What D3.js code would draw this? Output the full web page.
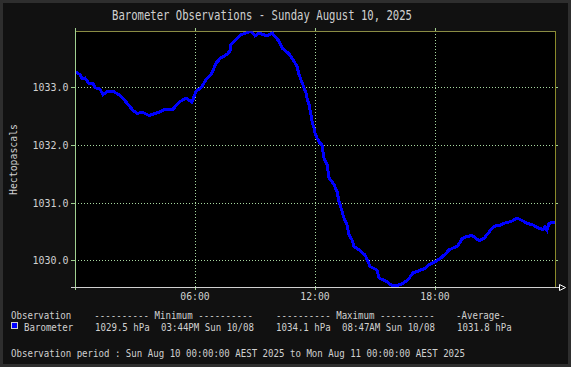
<!DOCTYPE html>
<html>
<head>
<meta charset="utf-8">
<script src="https://cdn.jsdelivr.net/npm/d3@7"></script>
<style>
  html, body { margin: 0; padding: 0; background: #2e2e2e; }
  svg { display: block; }
  text { font-family: "DejaVu Sans Mono", "Liberation Mono", monospace; fill: #d0d0d0; }
</style>
</head>
<body>
<svg id="chart" width="571" height="367"></svg>
<script>
// ---- data ----
const title = "Barometer Observations - Sunday August 10, 2025";
const yLabel = "Hectopascals";
const hours = [0.0,0.25,0.35,0.5,0.7,0.9,1.0,1.25,1.4,1.65,1.9,2.15,2.4,2.65,2.9,3.1,3.4,3.7,4.05,4.3,4.5,4.9,
  5.2,5.55,5.85,6.05,6.3,6.55,6.8,6.95,7.05,7.3,7.6,7.75,7.8,8.05,8.3,8.55,8.8,9.0,9.2,9.6,9.85,10.2,10.35,10.7,
  10.95,11.1,11.2,11.45,11.55,11.6,11.7,11.8,11.85,11.95,12.0,12.1,12.25,12.35,12.45,12.6,12.7,12.95,13.1,13.2,
  13.35,13.45,13.6,13.7,13.85,13.95,14.2,14.5,14.65,14.75,15.1,15.2,15.6,15.8,16.05,16.3,16.65,16.9,17.15,17.5,
  17.7,18.0,18.3,18.55,18.7,19.1,19.2,19.35,19.5,19.85,20.2,20.45,20.8,20.95,21.2,21.45,21.8,22.1,22.35,22.6,
  22.9,23.1,23.4,23.5,23.6,23.7,24.0];
const pressure = [1033.27,1033.22,1033.15,1033.16,1033.06,1033.06,1032.99,1032.97,1032.87,1032.93,1032.93,1032.88,
  1032.81,1032.70,1032.60,1032.55,1032.56,1032.51,1032.55,1032.58,1032.62,1032.62,1032.74,1032.81,1032.74,1032.93,
  1032.99,1033.13,1033.22,1033.33,1033.42,1033.51,1033.57,1033.63,1033.74,1033.83,1033.91,1033.94,1033.98,1033.89,
  1033.94,1033.89,1033.94,1033.80,1033.68,1033.58,1033.45,1033.36,1033.22,1032.99,1032.90,1032.81,1032.70,1032.52,
  1032.41,1032.29,1032.21,1032.12,1032.03,1032.00,1031.77,1031.66,1031.43,1031.31,1031.19,1031.02,1030.85,1030.73,
  1030.61,1030.44,1030.35,1030.24,1030.18,1030.09,1029.98,1029.89,1029.83,1029.69,1029.63,1029.57,1029.56,1029.58,
  1029.66,1029.78,1029.81,1029.86,1029.92,1029.97,1030.04,1030.12,1030.18,1030.24,1030.28,1030.37,1030.40,1030.43,
  1030.34,1030.38,1030.53,1030.59,1030.60,1030.64,1030.67,1030.73,1030.69,1030.64,1030.61,1030.57,1030.53,1030.58,
  1030.52,1030.64,1030.66];
const yTicks = [1030, 1031, 1032, 1033];
const xTicks = [6, 12, 18];
const xTickLabels = ["06:00", "12:00", "18:00"];
const legendHeader = ["Observation", "---------- Minimum ----------", "---------- Maximum ----------", "-Average-"];
const legendRow = ["Barometer", "1029.5 hPa", "03:44PM Sun 10/08", "1034.1 hPa", "08:47AM Sun 10/08", "1031.8 hPa"];
const periodText = "Observation period : Sun Aug 10 00:00:00 AEST 2025 to Mon Aug 11 00:00:00 AEST 2025";

// ---- layout ----
const svg = d3.select("#chart");
const L = 75, R = 555, T = 31.3, B = 287.3;
const CW = 5.47; // char width for small text

svg.append("rect").attr("x", 3).attr("y", 3).attr("width", 565).attr("height", 361).attr("fill", "#111111");

const x = d3.scaleLinear().domain([0, 24]).range([L, R]);
const y = d3.scaleLinear().domain([1029.53, 1033.97]).range([B, T]);

svg.append("rect").attr("x", L).attr("y", T).attr("width", R - L).attr("height", B - T).attr("fill", "#000");

// title
svg.append("text").attr("x", 112).attr("y", 20).attr("font-size", 13.5)
  .attr("textLength", 300).attr("lengthAdjust", "spacingAndGlyphs")
  .attr("fill", "#d4d4d4").text(title);

// grid lines
const grid = svg.append("g").attr("stroke", "#a8d8a0").attr("stroke-width", 1)
  .attr("stroke-dasharray", "1,2").attr("shape-rendering", "crispEdges");
yTicks.forEach(t => {
  grid.append("line").attr("x1", L).attr("x2", R).attr("y1", Math.round(y(t)) + 0.5).attr("y2", Math.round(y(t)) + 0.5);
});
xTicks.forEach(t => {
  grid.append("line").attr("y1", T).attr("y2", B).attr("x1", Math.round(x(t)) + 0.5).attr("x2", Math.round(x(t)) + 0.5);
});

// tick marks (solid)
const ticks = svg.append("g").attr("stroke", "#a0d090").attr("stroke-width", 1).attr("shape-rendering", "crispEdges");
yTicks.forEach(t => {
  const yy = Math.round(y(t)) + 0.5;
  ticks.append("line").attr("x1", L - 4).attr("x2", L).attr("y1", yy).attr("y2", yy);
  ticks.append("line").attr("x1", R).attr("x2", R + 3).attr("y1", yy).attr("y2", yy);
});
[0].concat(xTicks).forEach(t => {
  const xx = Math.round(x(t)) + 0.5;
  ticks.append("line").attr("x1", xx).attr("x2", xx).attr("y1", T - 3).attr("y2", T);
  ticks.append("line").attr("x1", xx).attr("x2", xx).attr("y1", B).attr("y2", B + 3);
});

// borders
svg.append("line").attr("x1", L).attr("x2", R + 0.5).attr("y1", Math.round(T) + 0.5).attr("y2", Math.round(T) + 0.5)
  .attr("stroke", "#8a8c44").attr("shape-rendering", "crispEdges");
svg.append("line").attr("x1", R + 0.5).attr("x2", R + 0.5).attr("y1", T).attr("y2", B)
  .attr("stroke", "#8a8a2a").attr("shape-rendering", "crispEdges");

// data line
svg.append("clipPath").attr("id", "clip").append("rect")
  .attr("x", L + 1).attr("y", T).attr("width", R - L - 1).attr("height", B - T);
const data = hours.map((h, i) => ({h, v: pressure[i]}));
const line = d3.line().x(d => x(d.h)).y(d => y(d.v)).curve(d3.curveLinear);
svg.append("path").datum(data).attr("d", line).attr("clip-path", "url(#clip)")
  .attr("fill", "none").attr("stroke", "#0000ff").attr("stroke-width", 3)
  .attr("stroke-linejoin", "miter").attr("shape-rendering", "crispEdges");

// axes lines
svg.append("line").attr("x1", L + 0.5).attr("x2", L + 0.5).attr("y1", T - 2).attr("y2", B + 3)
  .attr("stroke", "#a0d090").attr("shape-rendering", "crispEdges");
svg.append("line").attr("x1", L - 4).attr("x2", 560).attr("y1", Math.round(B) + 0.5).attr("y2", Math.round(B) + 0.5)
  .attr("stroke", "#d0d0d0").attr("shape-rendering", "crispEdges");
svg.append("path").attr("d", "M559.5,284.5 L565.5,287.5 L559.5,290.5 Z")
  .attr("fill", "none").attr("stroke", "#ffffff").attr("stroke-width", 1);

// y tick labels
yTicks.forEach(t => {
  svg.append("text").attr("x", 68.5).attr("y", y(t) + 4).attr("text-anchor", "end")
    .attr("font-size", 11).attr("textLength", 36).attr("lengthAdjust", "spacingAndGlyphs")
    .attr("fill", "#d0d0d0").text(t.toFixed(1));
});
// x tick labels
xTicks.forEach((t, i) => {
  svg.append("text").attr("x", x(t) - 14.7).attr("y", 299.5)
    .attr("font-size", 11).attr("textLength", 29.4).attr("lengthAdjust", "spacingAndGlyphs")
    .attr("fill", "#d0d0d0").text(xTickLabels[i]);
});
// y axis title
svg.append("text").attr("transform", "translate(16.5,195) rotate(-90)")
  .attr("font-size", 11).attr("textLength", 71).attr("lengthAdjust", "spacingAndGlyphs")
  .attr("fill", "#d0d0d0").text(yLabel);

// legend
function smallText(str, xx, yy) {
  svg.append("text").attr("x", xx).attr("y", yy).attr("font-size", 10.5)
    .attr("textLength", str.length * CW).attr("lengthAdjust", "spacingAndGlyphs")
    .attr("fill", "#d0d0d0").text(str);
}
const hdrX = [11, 94.3, 276, 456];
legendHeader.forEach((s, i) => smallText(s, hdrX[i], 318.5));
svg.append("rect").attr("x", 11.5).attr("y", 322.5).attr("width", 6).attr("height", 6)
  .attr("fill", "#0000ff").attr("stroke", "#d0d0d0").attr("stroke-width", 1);
const rowX = [24, 95, 161, 276, 342, 457];
legendRow.forEach((s, i) => smallText(s, rowX[i], 330.5));
smallText(periodText, 11, 357);
</script>
</body>
</html>
